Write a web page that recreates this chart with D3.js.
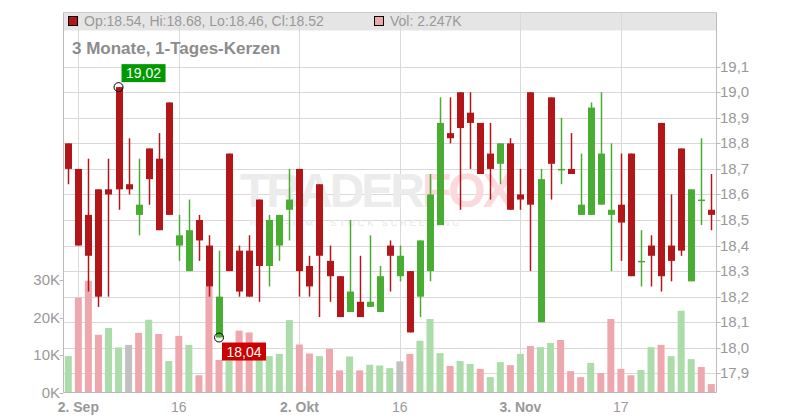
<!DOCTYPE html>
<html><head><meta charset="utf-8">
<script src="https://d3js.org/d3.v7.min.js"></script>
<style>body{margin:0;background:#fff}svg{display:block;font-family:"Liberation Sans",Arial,sans-serif}</style>
</head><body><svg id="c" width="800" height="420"></svg>
<script>
const opens  = [18.80,18.70,18.52,18.62,18.62,19.02,18.64,18.52,18.78,18.74,18.96,18.40,18.30,18.50,18.40,18.04,18.76,18.38,18.38,18.58,18.32,18.40,18.54,18.70,18.32,18.64,18.34,18.28,18.14,18.18,18.16,18.14,18.40,18.28,18.30,18.20,18.30,18.48,18.84,19.00,18.92,18.88,18.76,18.72,18.80,18.60,19.00,18.10,18.98,18.70,18.70,18.52,18.52,18.56,18.52,18.56,18.76,18.34,18.40,18.88,18.40,18.78,18.26,18.58,18.54];
const highs  = [18.80,18.70,18.74,18.62,18.74,19.02,18.82,18.74,18.78,18.84,18.96,18.52,18.58,18.52,18.44,18.38,18.76,18.40,18.44,18.58,18.52,18.52,18.70,18.70,18.36,18.64,18.40,18.28,18.50,18.36,18.44,18.32,18.42,18.40,18.30,18.42,18.68,18.98,18.98,19.00,19.00,18.88,18.88,18.80,18.82,18.70,19.00,18.70,18.98,18.90,18.84,18.76,18.96,19.00,18.80,18.76,18.76,18.46,18.44,18.88,18.60,18.78,18.62,18.82,18.68];
const lows   = [18.64,18.40,18.22,18.16,18.20,18.54,18.60,18.44,18.56,18.46,18.52,18.34,18.30,18.34,18.20,18.04,18.30,18.20,18.20,18.18,18.24,18.34,18.42,18.20,18.20,18.12,18.18,18.12,18.14,18.12,18.16,18.14,18.22,18.26,18.06,18.12,18.26,18.48,18.80,18.54,18.70,18.68,18.58,18.64,18.54,18.54,18.30,18.10,18.58,18.64,18.68,18.52,18.52,18.56,18.30,18.34,18.28,18.24,18.24,18.22,18.26,18.36,18.26,18.48,18.46];
const closes = [18.70,18.40,18.36,18.20,18.60,18.62,18.62,18.56,18.66,18.46,18.52,18.44,18.46,18.42,18.24,18.20,18.30,18.22,18.20,18.32,18.50,18.52,18.58,18.30,18.24,18.36,18.28,18.12,18.22,18.12,18.18,18.28,18.36,18.36,18.06,18.42,18.60,18.88,18.82,18.86,18.88,18.68,18.70,18.80,18.54,18.58,18.56,18.66,18.72,18.70,18.68,18.56,18.94,18.76,18.54,18.49,18.28,18.34,18.36,18.28,18.34,18.38,18.62,18.58,18.52];
const candleDir = [0,0,0,0,0,0,0,1,0,0,0,1,1,0,0,1,0,0,0,0,1,1,1,0,0,0,0,0,1,0,1,1,0,1,0,1,1,1,0,0,0,0,0,1,0,0,0,1,0,1,0,1,1,1,1,0,0,1,0,0,0,0,1,1,0];
const volumes = [9.7,25.3,29.8,15.4,17.2,12.0,12.7,15.9,19.4,15.6,8.4,15.1,12.7,4.6,28.3,8.7,8.5,16.5,16.0,9.7,9.7,10.3,19.3,12.8,10.4,9.7,11.6,5.9,9.6,5.9,7.4,7.2,6.5,8.3,10.3,13.8,19.6,10.5,7.1,8.4,7.6,6.3,4.1,8.1,7.3,10.3,12.4,12.1,13.2,14.0,5.7,4.1,7.9,5.2,19.6,6.3,4.6,6.0,12.1,12.7,9.7,21.8,8.9,6.8,2.247];
const volDir = ["u","d","d","d","u","u","n","d","u","d","u","d","u","d","d","d","u","d","d","u","u","u","u","d","d","u","d","d","u","d","u","u","u","n","d","u","u","u","d","u","u","d","u","u","d","u","d","u","u","d","d","d","u","d","d","d","d","u","u","d","u","u","u","d","d"];
const xTickIdx = [1,11,23,33,45,55];
const xTickLabels = ["2. Sep","16","2. Okt","16","3. Nov","17"];
const xTickBold = [true,false,true,false,true,false];
const priceTicks = [17.9,18.0,18.1,18.2,18.3,18.4,18.5,18.6,18.7,18.8,18.9,19.0,19.1];
const volTicks = [0,10,20,30];
const volTickLabels = ["0K","10K","20K","30K"];

const svg = d3.select("#c");
const L=63.5,R=716.5,T=12.5,B=392.5;
const x = d3.scaleLinear().domain([0,64]).range([68.3,711.3]);
const y = d3.scaleLinear().domain([17.9,19.1]).range([373.3,66.7]);
const yv = d3.scaleLinear().domain([0,30]).range([B,280]);
const gridC="#d9d9d9", txtC="#999";
const RED="#b21618", GREEN="#49ad33";
const VC={u:"#abdca9",d:"#efa7ae",n:"#c0c0c0"};

svg.append("rect").attr("x",L).attr("y",T).attr("width",R-L).attr("height",18).attr("fill","#e5e5e5");
svg.append("g").selectAll("line").data(priceTicks).join("line")
  .attr("x1",L).attr("x2",R).attr("y1",d=>Math.round(y(d))+.5).attr("y2",d=>Math.round(y(d))+.5)
  .attr("stroke",gridC);
svg.append("g").selectAll("line").data(xTickIdx).join("line")
  .attr("x1",d=>Math.round(x(d))+.5).attr("x2",d=>Math.round(x(d))+.5).attr("y1",T).attr("y2",B)
  .attr("stroke",gridC);

// watermark
const wm = svg.append("text").attr("x",240).attr("y",207).attr("font-size",48).attr("font-weight","bold")
  .attr("letter-spacing","-3");
wm.append("tspan").attr("fill","#ececec").text("TRADER");
wm.append("tspan").attr("fill","#fbd9dc").text("FOX");
svg.append("text").attr("x",250).attr("y",226).attr("font-size",9).attr("fill","#e6e6e6")
  .attr("letter-spacing","3").text("REAL-TIME STOCK SCREENING");

svg.append("g").selectAll("rect").data(volumes).join("rect")
  .attr("x",(d,i)=>x(i)-3.5).attr("width",7)
  .attr("y",d=>yv(d)).attr("height",d=>B-yv(d))
  .attr("fill",(d,i)=>VC[volDir[i]]);

const cg = svg.append("g");
opens.forEach((o,i)=>{
  const c=closes[i], col=candleDir[i]?GREEN:RED, cx=Math.round(x(i))+.5;
  cg.append("line").attr("x1",cx).attr("x2",cx).attr("y1",y(highs[i])).attr("y2",y(lows[i]))
    .attr("stroke",col).attr("stroke-width",1.5);
  const top=y(Math.max(o,c)), bot=y(Math.min(o,c));
  cg.append("rect").attr("x",cx-3.5).attr("width",7).attr("y",top).attr("height",Math.max(1.5,bot-top)).attr("fill",col);
});

svg.append("line").attr("x1",L).attr("x2",L).attr("y1",T).attr("y2",B).attr("stroke","#bbb");
svg.append("line").attr("x1",R).attr("x2",R).attr("y1",T).attr("y2",B).attr("stroke","#bbb");
svg.append("line").attr("x1",L).attr("x2",R).attr("y1",T).attr("y2",T).attr("stroke","#ccc");
svg.append("line").attr("x1",L).attr("x2",R).attr("y1",B).attr("y2",B).attr("stroke","#bbb");

const ra = svg.append("g");
ra.selectAll("line").data(priceTicks).join("line").attr("x1",R).attr("x2",R+4)
  .attr("y1",d=>Math.round(y(d))+.5).attr("y2",d=>Math.round(y(d))+.5).attr("stroke","#bbb");
ra.selectAll("text").data(priceTicks).join("text").attr("x",720).attr("y",d=>y(d)+5)
  .attr("font-size",15).attr("fill",txtC).text(d=>d3.format(".1f")(d).replace(".",","));
const la = svg.append("g");
la.selectAll("line").data(volTicks).join("line").attr("x1",L-4).attr("x2",L)
  .attr("y1",d=>Math.round(yv(d))+.5).attr("y2",d=>Math.round(yv(d))+.5).attr("stroke","#bbb");
la.selectAll("text").data(volTicks).join("text").attr("x",60).attr("y",d=>yv(d)+5).attr("text-anchor","end")
  .attr("font-size",15).attr("fill",txtC).text((d,i)=>volTickLabels[i]);
svg.append("g").selectAll("text").data(xTickIdx).join("text")
  .attr("x",d=>x(d)).attr("y",412).attr("text-anchor","middle").attr("font-size",14)
  .attr("font-weight",(d,i)=>xTickBold[i]?"bold":"normal").attr("fill",txtC).text((d,i)=>xTickLabels[i]);

svg.append("rect").attr("x",68.5).attr("y",16.5).attr("width",9).attr("height",9).attr("fill",RED).attr("stroke","#000");
svg.append("text").attr("x",84).attr("y",26).attr("font-size",14).attr("fill",txtC)
  .text(`Op:${opens[64].toFixed(2)}, Hi:${highs[64].toFixed(2)}, Lo:${lows[64].toFixed(2)}, Cl:${closes[64].toFixed(2)}`);
svg.append("rect").attr("x",374.5).attr("y",16.5).attr("width",9).attr("height",9).attr("fill","#efa7ae").attr("stroke","#000");
svg.append("text").attr("x",390).attr("y",26).attr("font-size",14).attr("fill",txtC).text("Vol: 2.247K");
svg.append("text").attr("x",72).attr("y",54).attr("font-size",17).attr("font-weight","bold").attr("fill","#8c8c8c")
  .text("3 Monate, 1-Tages-Kerzen");

const iMax = d3.maxIndex(highs), iMin = d3.minIndex(lows);
function annot(i,v,above,bg){
  const cx=x(i), cy=y(v);
  svg.append("circle").attr("cx",cx).attr("cy",cy).attr("r",4.5).attr("fill","none").attr("stroke","#000");
  const bx=cx+3, by= above? cy-23 : cy+5;
  svg.append("rect").attr("x",bx).attr("y",by).attr("width",44).attr("height",18).attr("fill",bg);
  svg.append("text").attr("x",bx+22).attr("y",by+14).attr("text-anchor","middle").attr("font-size",14)
    .attr("fill","#fff").text(v.toFixed(2).replace(".",","));
}
annot(iMax,highs[iMax],true,"#009a00");
annot(iMin,lows[iMin],false,"#cc0000");
</script></body></html>
